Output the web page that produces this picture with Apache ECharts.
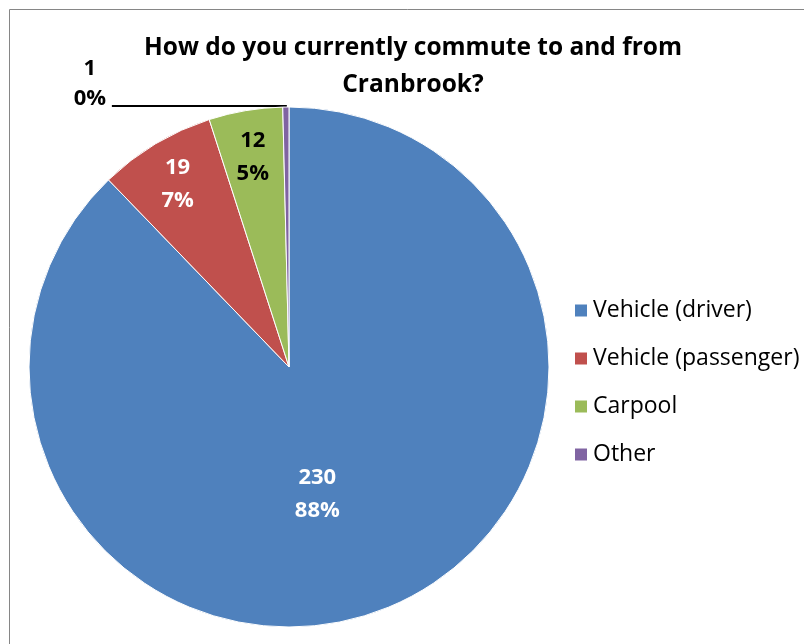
<!DOCTYPE html>
<html>
<head>
<meta charset="utf-8">
<script src="https://cdn.jsdelivr.net/npm/echarts@6/dist/echarts.min.js"></script>
<style>html,body{margin:0;padding:0;background:#fff}#c{width:804px;height:644px}</style>
</head>
<body>
<div id="c"></div>
<script>
const titleText = 'How do you currently commute to and from\nCranbrook?';
const categories = ['Vehicle (driver)', 'Vehicle (passenger)', 'Carpool', 'Other'];
const values = [230, 19, 12, 1];
const colors = ['#4F81BD', '#C0504D', '#9BBB59', '#8064A2'];
const labelColors = ['#fff', '#fff', '#000', '#000'];

const FONT = '"Open Sans", Lato, sans-serif';
const CX = 289, CY = 367, R = 260;
// radial scale of inside labels (1 = ECharts default mid-radius)
const labelRadialScale = [0.97, 1.63, 1.63, 1];
const labelExtraDx = [-20, 0, 0, 0];
const labelExtraDy = [8, 3, 4, 0];

const chart = echarts.init(document.getElementById('c'), null, {renderer: 'canvas'});

const data = categories.map((name, i) => {
  const item = {
    name: name,
    value: values[i],
    itemStyle: {color: colors[i]},
    label: {color: labelColors[i]}
  };
  if (i === 3) {
    item.label = {
      position: 'outside',
      color: '#000',
      padding: [0, 0, 44, 0],
      formatter: p => '{o|' + p.value + '}\n{o|' + p.percent + '%}',
      rich: {o: {width: 34, align: 'center', fontSize: 22, fontWeight: 'bold', lineHeight: 30, fontFamily: FONT, color: '#000'}}
    };
    item.labelLine = {show: true, length: 1, length2: 174, lineStyle: {color: '#000', width: 2}};
  }
  return item;
});

chart.setOption({
  animation: false,
  backgroundColor: '#fff',
  title: {
    text: titleText,
    left: 413,
    top: 30,
    padding: 0,
    textAlign: 'center',
    textStyle: {fontFamily: FONT, fontSize: 24.5, fontWeight: 'bold', color: '#000', lineHeight: 37}
  },
  legend: {
    orient: 'vertical',
    left: 573,
    top: 299,
    padding: 0,
    itemWidth: 14,
    itemHeight: 14,
    itemGap: 25,
    icon: 'rect',
    data: categories,
    textStyle: {fontFamily: FONT, fontSize: 23, color: '#000'}
  },
  graphic: [{
    type: 'rect',
    shape: {x: 9.5, y: 9.5, width: 1000, height: 1000},
    style: {fill: 'none', stroke: '#868686', lineWidth: 1},
    silent: true
  }],
  series: [{
    type: 'pie',
    center: [CX, CY],
    radius: R,
    startAngle: 90,
    clockwise: true,
    percentPrecision: 0,
    avoidLabelOverlap: false,
    itemStyle: {borderColor: '#fff', borderWidth: 1},
    label: {
      show: true,
      position: 'inside',
      fontFamily: FONT,
      fontSize: 22,
      fontWeight: 'bold',
      lineHeight: 33,
      formatter: '{c}\n{d}%'
    },
    labelLine: {show: false},
    emphasis: {disabled: true},
    labelLayout: function (p) {
      const i = p.dataIndex;
      if (i === 3) return {};
      const r = p.labelRect;
      const lx = r.x + r.width / 2, ly = r.y + r.height / 2;
      const k = labelRadialScale[i] - 1;
      return {dx: (lx - CX) * k + labelExtraDx[i], dy: (ly - CY) * k + labelExtraDy[i]};
    },
    data: data
  }]
});
</script>
</body>
</html>
